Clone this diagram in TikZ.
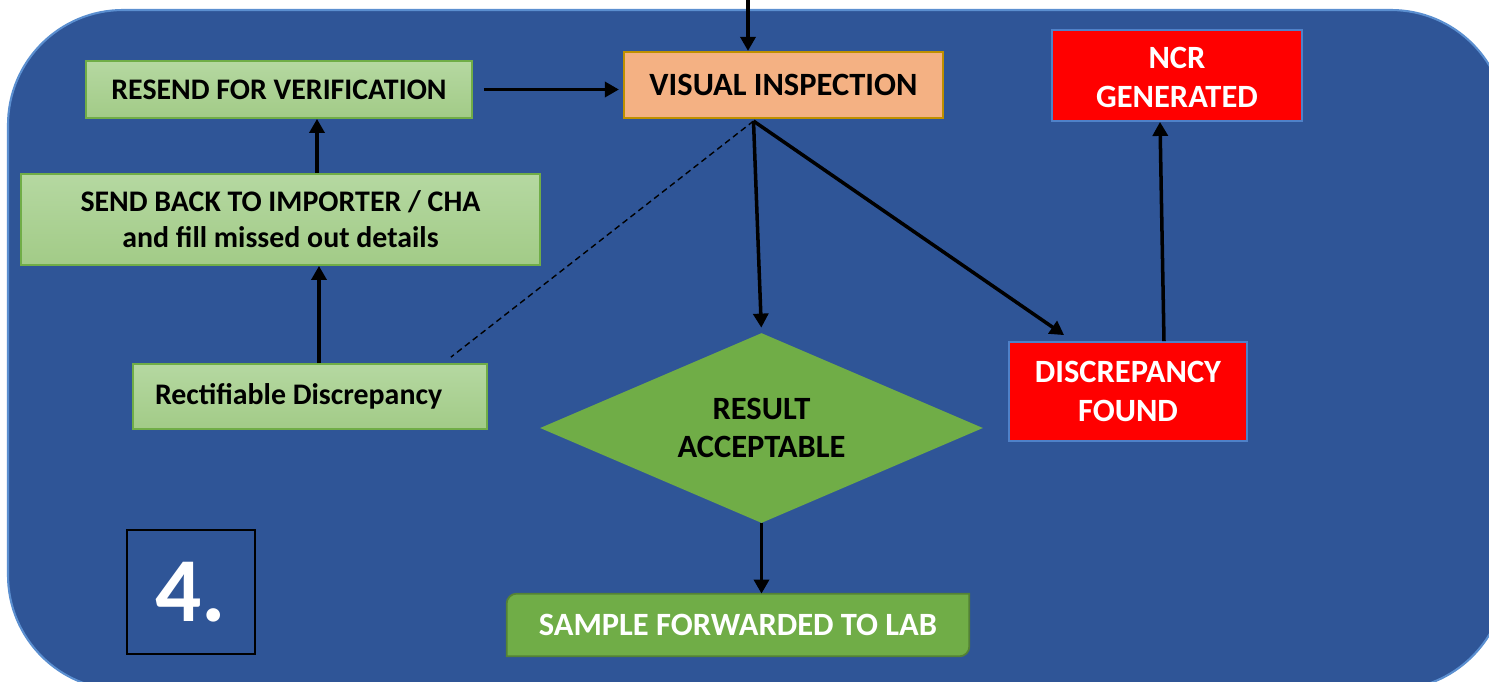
\documentclass[tikz,border=0pt]{standalone}
\usepackage{fontspec}
\setmainfont{Carlito}
\usetikzlibrary{arrows.meta,shapes.geometric}

\definecolor{panel}{HTML}{2F5597}
\definecolor{paneledge}{HTML}{5B8FD0}
\definecolor{peach}{HTML}{F4B183}
\definecolor{gold}{HTML}{BF9000}
\definecolor{lightgreenA}{HTML}{B5D8A1}
\definecolor{lightgreenB}{HTML}{A2CB87}
\definecolor{leaf}{HTML}{70AD47}
\definecolor{leafdark}{HTML}{548235}
\definecolor{alarm}{HTML}{FF0000}
\definecolor{alarmedge}{HTML}{4F81C8}

\newdimen\px
\px=0.02cm

\pgfdeclarelayer{bg}
\pgfsetlayers{bg,main}

\tikzset{
  box/.style={rectangle, inner sep=0pt, align=center, font=\bfseries\fontsize{17}{20.5}\selectfont},
  greenbox/.style={box, top color=lightgreenA, bottom color=lightgreenB, draw=leaf, line width=1pt, text=black},
  peachbox/.style={box, fill=peach, draw=gold, line width=1.2pt, text=black, font=\bfseries\fontsize{18.5}{21}\selectfont},
  redbox/.style={box, fill=alarm, draw=alarmedge, line width=1pt, text=white, font=\bfseries\fontsize{18.5}{22.7}\selectfont},
  decision/.style={diamond, fill=leaf, inner sep=0pt, align=center, text=black, font=\bfseries\fontsize{18.5}{21.5}\selectfont},
  arr/.style={-{Triangle[length=8pt,width=8.5pt]}, line width=2pt, black},
  hint/.style={dashed, dash pattern=on 6\px off 4\px, line width=0.8pt, black},
}

\begin{document}
\begin{tikzpicture}[x=0.02cm, y=-0.02cm]
\useasboundingbox (0,0) rectangle (1489,681);
\clip (0,0) rectangle (1489,681);

% page and panel
\begin{pgfonlayer}{bg}
  \fill[white] (0,0) rectangle (1489,681);
  \draw[fill=panel, draw=paneledge, line width=1.2pt, rounded corners=115\px] (8,10) rectangle (1506,690);
\end{pgfonlayer}

% nodes
\node[peachbox, minimum width=319\px, minimum height=66\px] (vi) at (783.5,85) {VISUAL INSPECTION};
\node[greenbox, minimum width=386\px, minimum height=57\px] (resend) at (279,89.5) {RESEND FOR VERIFICATION};
\node[greenbox, minimum width=519\px, minimum height=91\px] (sendback) at (280.5,219.5)
  {SEND BACK TO IMPORTER / CHA\\and fill missed out details};
\node[greenbox, minimum width=354\px, minimum height=65\px] (rect) at (310,396.5)
  {\makebox[310\px][l]{Rectifiable Discrepancy}};
\node[redbox, minimum width=250\px, minimum height=91\px] (ncr) at (1177,75.5)
  {\raisebox{-4.5\px}[\height][\depth]{\begin{tabular}{@{}c@{}}NCR\\GENERATED\end{tabular}}};
\node[redbox, minimum width=238\px, minimum height=99\px] (disc) at (1128,391.5) {DISCREPANCY\\FOUND};
\node[decision, aspect=2.33, minimum width=443\px, minimum height=190\px] (dia) at (761.5,428) {RESULT\\ACCEPTABLE};
\node[box, minimum width=462\px, minimum height=62\px, text=white, font=\bfseries\fontsize{18.5}{21}\selectfont] (sample) at (738,625)
  {SAMPLE FORWARDED TO LAB};
\node[rectangle, draw=black, line width=1.2pt, minimum width=128\px, minimum height=124\px, inner sep=0pt,
  text=white, font=\bfseries\fontsize{52}{52}\selectfont] (four) at (191,592) {4.};

% sample box outline: rounded top-left and bottom-right corners
\begin{pgfonlayer}{bg}
  \draw[fill=leaf, draw=leafdark, line width=1pt]
    ([xshift=10\px]sample.north west) -- (sample.north east) -- ([yshift=10\px]sample.south east)
    arc[start angle=0, end angle=-90, radius=10\px] -- (sample.south west) -- ([yshift=-10\px]sample.north west)
    arc[start angle=180, end angle=90, radius=10\px] -- cycle;
\end{pgfonlayer}

% helper points
\coordinate (entry) at (748,0);
\coordinate (split) at ([xshift=-30\px,yshift=-2\px]vi.south);
\coordinate (leftcol) at (317,0);
\coordinate (leftcolb) at (319,0);

% connectors
\draw[arr] (entry) -- (entry |- vi.north);
\draw[arr, shorten <=11\px, shorten >=4\px] (resend.east) -- (resend.east -| vi.west);
\draw[arr] (sendback.north -| leftcol) -- (resend.south -| leftcol);
\draw[arr] (rect.north -| leftcolb) -- (sendback.south -| leftcolb);
\draw[arr, shorten >=5\px] (split) -- (dia.north);
\draw[arr] (split) -- ([xshift=56\px,yshift=6\px]disc.north west);
\draw[arr] ([xshift=36\px]disc.north) -- ([xshift=-17\px]ncr.south);
\draw[arr] (dia.south) -- (dia.south |- sample.north);
\draw[hint] (split) -- ([xshift=-37\px,yshift=6\px]rect.north east);
\end{tikzpicture}
\end{document}
